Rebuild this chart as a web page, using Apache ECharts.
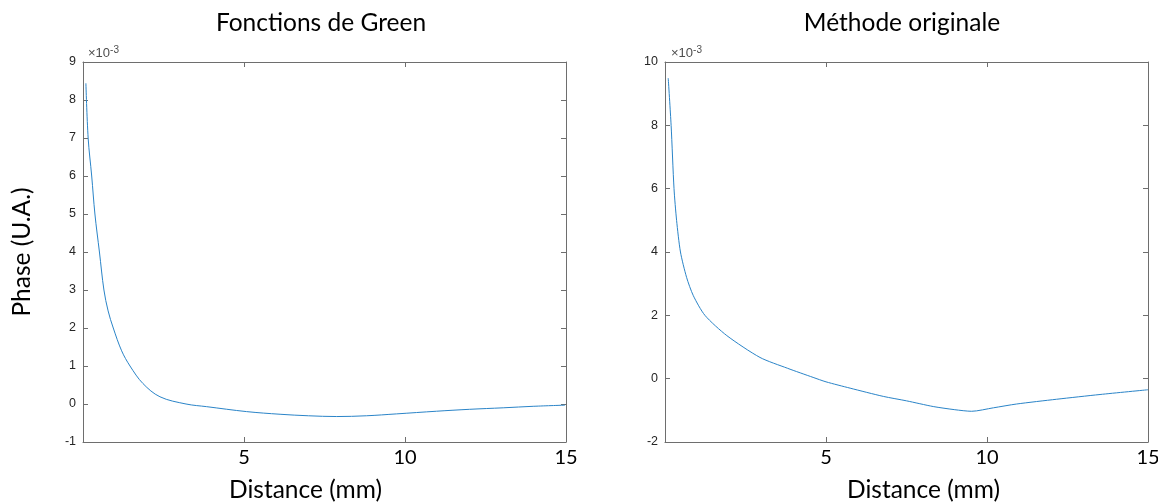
<!DOCTYPE html>
<html><head><meta charset="utf-8">
<script src="https://cdn.jsdelivr.net/npm/echarts@6/dist/echarts.min.js"></script>
<style>html,body{margin:0;padding:0;background:#fff}#c{width:1158px;height:503px}</style>
</head><body><div id="c"></div>
<script>
const titles = ['Fonctions de Green', 'Méthode originale'];
const xLabel = 'Distance (mm)';
const yLabel = 'Phase (U.A.)';
const expLabel = ['×10', '-3'];
// Phase values in units of 1e-3
const greenX = [0.09, 0.16, 0.27, 0.37, 0.51, 0.65, 0.78, 0.94, 1.2, 1.46, 1.86, 2.39, 3.2, 3.84, 5.08, 6.12, 7.0, 7.88, 8.8, 9.74, 10.98, 12.0, 13.05, 14.0, 14.97];
const greenY = [8.44, 7.0, 6.0, 5.0, 4.0, 3.0, 2.45, 2.0, 1.4, 1.0, 0.54, 0.19, 0.0, -0.07, -0.2, -0.27, -0.31, -0.33, -0.31, -0.26, -0.19, -0.14, -0.1, -0.06, -0.03];
const origX = [0.1, 0.19, 0.28, 0.36, 0.48, 0.67, 0.88, 1.24, 1.92, 2.95, 3.8, 4.6, 5.0, 5.75, 6.78, 7.5, 8.33, 9.0, 9.52, 10.2, 10.92, 12.16, 13.51, 15.0];
const origY = [9.49, 8.0, 6.0, 5.0, 4.0, 3.2, 2.62, 2.0, 1.36, 0.67, 0.33, 0.04, -0.1, -0.3, -0.56, -0.7, -0.88, -0.98, -1.03, -0.92, -0.8, -0.65, -0.5, -0.35];
const xRange = [0, 15];
const xStep = 5;
const greenYRange = [-1, 9];
const greenYStep = 1;
const origYRange = [-2, 10];
const origYStep = 2;

const axisCol = '#6e6e6e';
const lineCol = '#2a84c8';
const labFont = 'Lato, "Open Sans", sans-serif';

function pairs(xs, ys) { return xs.map((x, i) => [x, ys[i]]); }

const grids = [
  {left: 83, top: 62, width: 483, height: 380, containLabel: false, outerBoundsMode: 'none'},
  {left: 665, top: 62, width: 483, height: 380, containLabel: false, outerBoundsMode: 'none'}
];

function xAxes(gi) {
  return [
    {type: 'value', gridIndex: gi, position: 'bottom', min: xRange[0], max: xRange[1], interval: xStep,
     name: xLabel, nameLocation: 'middle', nameGap: 36,
     nameTextStyle: {fontFamily: labFont, fontSize: 24.5, color: '#000', padding: gi === 0 ? [0, 38, 0, 0] : [0, 0, 0, 34]},
     axisLine: {show: true, onZero: false, lineStyle: {color: axisCol, width: 1}},
     axisTick: {show: true, inside: true, length: 5, lineStyle: {color: axisCol}},
     axisLabel: {show: true, margin: 6, fontFamily: labFont, fontSize: 20, color: '#000',
       formatter: v => v === 0 ? '' : String(v)},
     splitLine: {show: false}},
    {type: 'value', gridIndex: gi, position: 'top', min: xRange[0], max: xRange[1], interval: xStep,
     axisLine: {show: true, onZero: false, lineStyle: {color: axisCol, width: 1}},
     axisTick: {show: true, inside: true, length: 5, lineStyle: {color: axisCol}},
     axisLabel: {show: false}, splitLine: {show: false}}
  ];
}
function yAxes(gi, range, step, withName) {
  return [
    {type: 'value', gridIndex: gi, position: 'left', min: range[0], max: range[1], interval: step,
     name: withName ? yLabel : '', nameLocation: 'middle', nameGap: 48,
     nameTextStyle: {fontFamily: labFont, fontSize: 24.5, color: '#000'},
     axisLine: {show: true, onZero: false, lineStyle: {color: axisCol, width: 1}},
     axisTick: {show: true, inside: true, length: 5, lineStyle: {color: axisCol}},
     axisLabel: {show: true, margin: 7, fontFamily: '"Liberation Sans", Arial, sans-serif', fontSize: 12.5, color: '#262626'},
     splitLine: {show: false}},
    {type: 'value', gridIndex: gi, position: 'right', min: range[0], max: range[1], interval: step,
     axisLine: {show: true, onZero: false, lineStyle: {color: axisCol, width: 1}},
     axisTick: {show: true, inside: true, length: 5, lineStyle: {color: axisCol}},
     axisLabel: {show: false}, splitLine: {show: false}}
  ];
}

const expRich = {
  a: {fontFamily: '"Liberation Sans", Arial, sans-serif', fontSize: 13, fontWeight: 'normal', color: '#4d4d4d'},
  s: {fontFamily: '"Liberation Sans", Arial, sans-serif', fontSize: 10, fontWeight: 'normal', color: '#4d4d4d', verticalAlign: 'top', padding: [0, 0, 7, 0]}
};

const option = {
  animation: false,
  backgroundColor: '#fff',
  title: [
    {text: titles[0], left: 316, top: 6, textAlign: 'center',
     textStyle: {fontFamily: labFont, fontSize: 24.5, fontWeight: 'normal', color: '#000'}},
    {text: titles[1], left: 897, top: 6, textAlign: 'center',
     textStyle: {fontFamily: labFont, fontSize: 24.5, fontWeight: 'normal', color: '#000'}},
    {text: '{a|' + expLabel[0] + '}{s|' + expLabel[1] + '}', left: 83, top: 40,
     textStyle: {fontWeight: 'normal', rich: expRich}},
    {text: '{a|' + expLabel[0] + '}{s|' + expLabel[1] + '}', left: 666, top: 40,
     textStyle: {fontWeight: 'normal', rich: expRich}}
  ],
  grid: grids,
  xAxis: [...xAxes(0), ...xAxes(1)],
  yAxis: [...yAxes(0, greenYRange, greenYStep, true), ...yAxes(1, origYRange, origYStep, false)],
  series: [
    {type: 'line', xAxisIndex: 0, yAxisIndex: 0, data: pairs(greenX, greenY), showSymbol: false,
     smooth: 0.35, lineStyle: {color: lineCol, width: 1}},
    {type: 'line', xAxisIndex: 2, yAxisIndex: 2, data: pairs(origX, origY), showSymbol: false,
     smooth: 0.25, lineStyle: {color: lineCol, width: 1}}
  ]
};
const chart = echarts.init(document.getElementById('c'), null, {renderer: 'canvas'});
chart.setOption(option);
</script></body></html>
